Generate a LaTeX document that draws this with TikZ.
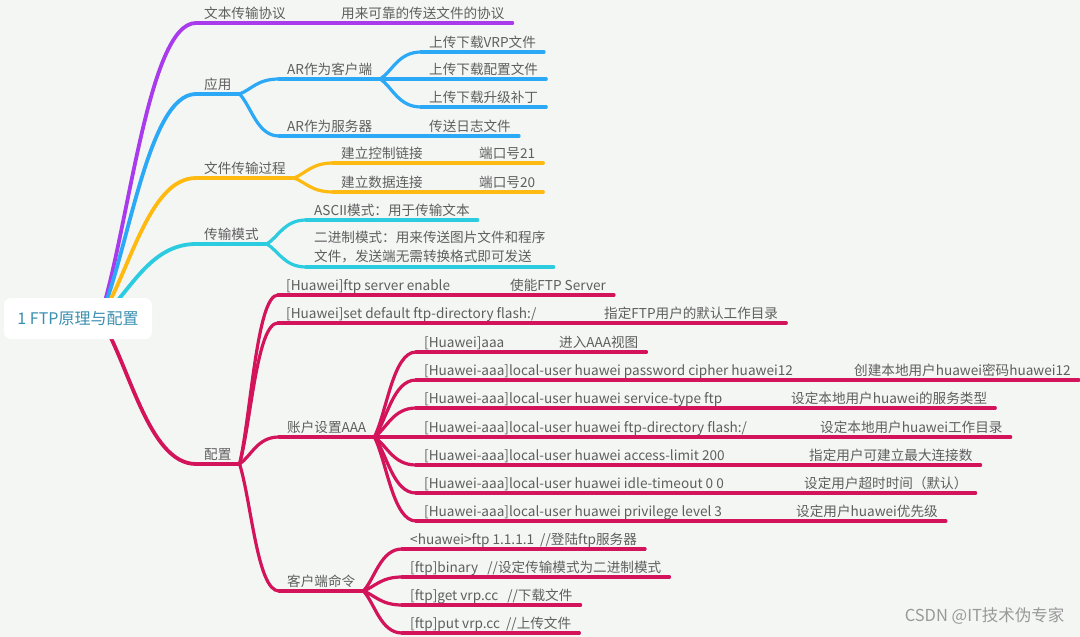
\documentclass[tikz,border=0pt]{standalone}
\usepackage{fontspec}
\setmainfont{Noto Sans CJK SC}
\usetikzlibrary{calc}
\definecolor{bg}{HTML}{F4F6F4}
\definecolor{txt}{HTML}{5E5E5E}
\definecolor{roottxt}{HTML}{3A8FB0}
\definecolor{cpur}{HTML}{A93BEC}
\definecolor{cblu}{HTML}{2BA8F6}
\definecolor{cyel}{HTML}{FFBA12}
\definecolor{ccya}{HTML}{2BCBE0}
\definecolor{cred}{HTML}{D3145A}
\tikzset{
  mm/.style={anchor=south west,inner xsep=8pt,inner ysep=1pt,text height=11pt,text depth=3pt,
    text=txt,font=\fontsize{13.6}{16}\selectfont},
  br/.style={line width=3.2pt,line cap=round},
}
% curve from the end of a parent underline to the start of a child underline
\newcommand\mmlink[3]{\draw[#1] (#2) .. controls ($(#2)!0.3!(#3)$) and ($(#2 |- #3)!0.45!(#3)$) .. (#3);}
\newcommand\ul[1]{\underline{#1}}
\begin{document}
\begin{tikzpicture}[x=1pt,y=-1pt,line join=round,line cap=round]
\fill[bg] (0,0) rectangle (1080,637);
\useasboundingbox (0,0) rectangle (1080,637);
\coordinate (hub) at (100,318);
% main branches
\foreach \n/\c/\y/\s in {t1/cpur/23/文本传输协议,t2/cblu/94/应用,t3/cyel/178/文件传输过程,t4/ccya/244/传输模式,t5/cred/464/配置}{
  \node[mm] (\n) at (196,\y) {\s};
  \draw[br,color=\c] (\n.south west)--(\n.south east);
  \draw[br,color=\c,line width=3.8pt] (hub) .. controls ($(hub)!0.3!(\n.south west)$) and ($(hub |- \n.south west)!0.5!(\n.south west)$) .. (\n.south west);
}
% sub topics
\foreach \p/\n/\c/\x/\y/\s in {
  t1/p1/cpur/333/23/用来可靠的传送文件的协议,
  t2/b1/cblu/279/79/AR作为客户端,
  t2/b2/cblu/279/136/AR作为服务器,
  b1/b11/cblu/421/52/上传下载VRP文件,
  b1/b12/cblu/421/79/上传下载配置文件,
  b1/b13/cblu/421/107/上传下载升级补丁,
  b2/b21/cblu/421/136/传送日志文件,
  t3/y1/cyel/333/163/建立控制链接,
  t3/y2/cyel/333/192/建立数据连接,
  y1/y11/cyel/471/163/端口号21,
  y2/y21/cyel/471/192/端口号20,
  t4/c1/ccya/306/220/ASCII模式：用于传输文本,
  t5/r1/cred/278/295/{[Huawei]ftp server enable},
  t5/r2/cred/278/323/{[Huawei]set default ftp-directory flash:/},
  t5/r3/cred/279/437/账户设置AAA,
  t5/r4/cred/279/591/客户端命令,
  r1/r11/cred/502/295/使能FTP Server,
  r2/r21/cred/596/323/指定FTP用户的默认工作目录,
  r3/a1/cred/416/352/{[Huawei]aaa},
  r3/a2/cred/416/380/{[Huawei-aaa]local-user huawei password cipher huawei12},
  r3/a3/cred/416/408/{[Huawei-aaa]local-user huawei service-type ftp},
  r3/a4/cred/416/437/{[Huawei-aaa]local-user huawei ftp-directory flash:/},
  r3/a5/cred/416/465/{[Huawei-aaa]local-user huawei access-limit 200},
  r3/a6/cred/416/493/{[Huawei-aaa]local-user huawei idle-timeout 0 0},
  r3/a7/cred/416/521/{[Huawei-aaa]local-user huawei privilege level 3},
  a1/a11/cred/551/352/进入AAA视图,
  a2/a21/cred/846/380/创建本地用户huawei密码huawei12,
  a3/a31/cred/783/408/设定本地用户huawei的服务类型,
  a4/a41/cred/812/437/设定本地用户huawei工作目录,
  a5/a51/cred/801/465/指定用户可建立最大连接数,
  a6/a61/cred/796/493/设定用户超时时间（默认）,
  a7/a71/cred/788/521/设定用户huawei优先级,
  r4/k1/cred/402/549/{<huawei>ftp 1.1.1.1~~//登陆ftp服务器},
  r4/k2/cred/402/577/{[ftp]binary~~~//设定传输模式为二进制模式},
  r4/k3/cred/402/605/{[ftp]get \ul{vrp.cc}~~~//下载文件},
  r4/k4/cred/402/633/{[ftp]put \ul{vrp.cc}~~//上传文件}}{
  \node[mm] (\n) at (\x,\y) {\s};
  \draw[br,color=\c] (\n.south west)--(\n.south east);
  \mmlink{br,color=\c}{\p.south east}{\n.south west}
}
% two line topic
\node[mm,text height=,text depth=,inner ysep=4pt,align=left,font=\fontsize{13.6}{19}\selectfont] (c2) at (306,267)
  {二进制模式：用来传送图片文件和程序\\文件，发送端无需转换格式即可发送};
\draw[br,color=ccya] (c2.south west)--(c2.south east);
\mmlink{br,color=ccya}{t4.south east}{c2.south west}
% central topic
\node[fill=white,rounded corners=7pt,minimum width=148pt,minimum height=41pt,text=roottxt,
  font=\fontsize{16}{19}\selectfont] (root) at (78,318.5) {1 FTP原理与配置};
\node[anchor=east,text=black!40,font=\fontsize{16.5}{19}\selectfont] (wm) at (1068,616) {CSDN @IT技术伪专家};
\end{tikzpicture}
\end{document}
